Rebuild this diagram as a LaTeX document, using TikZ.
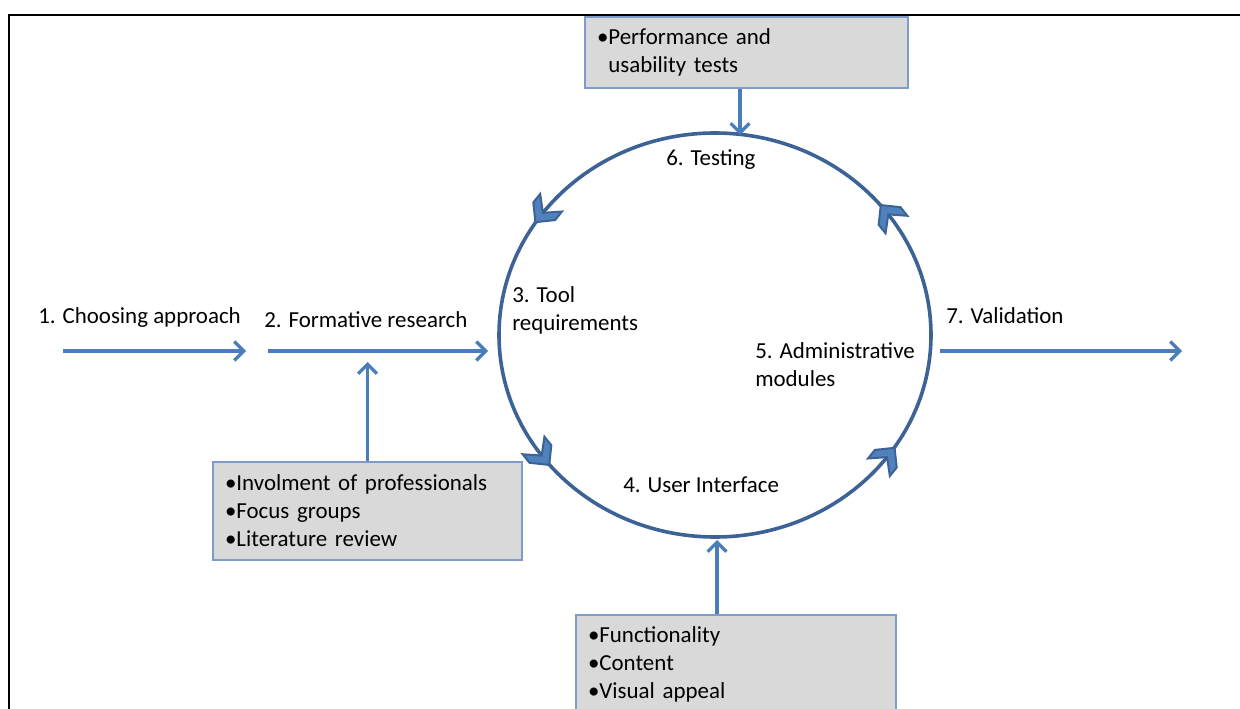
\documentclass[tikz,border=0pt]{standalone}
\usepackage{fontspec}
\setmainfont{Carlito}
\usetikzlibrary{arrows.meta,decorations.markings}
\definecolor{arrowblue}{HTML}{4A7EBB}
\definecolor{ringblue}{HTML}{3C6296}
\definecolor{chevfill}{HTML}{4F81BD}
\definecolor{boxfill}{HTML}{D9D9D9}
\definecolor{boxline}{HTML}{7F9CC8}
\newcommand\mychevron{\filldraw[fill=chevfill,draw=ringblue,line width=1.5pt,line join=miter] (11,0) -- (-3,14) -- (-14,14) -- (-1,0) -- (-14,-14) -- (-3,-14) -- cycle;}
\begin{document}
\begin{tikzpicture}[x=0.75pt,y=-0.75pt,
  font=\fontsize{17.2}{21}\selectfont,
  arr/.style={draw=arrowblue,line width=2.5pt,-{Straight Barb[length=7pt,width=14pt]}},
  ring/.style={draw=ringblue,line width=2.7pt},
  infobox/.style={draw=boxline,fill=boxfill,line width=0.8pt,inner xsep=9pt,inner ysep=0pt,align=left},
  lbl/.style={anchor=west,inner sep=0pt,align=left}]
\useasboundingbox (0,0) rectangle (1240,709);
\clip (0,0) rectangle (1240,709);
% frame
\draw[line width=2.2pt] (9,15) rectangle (1270,740);
% ring
\coordinate (ctr) at (715,335);
\draw[ring,postaction={decorate},decoration={markings,
   mark=at position 0.10 with {\mychevron},
   mark=at position 0.40 with {\mychevron},
   mark=at position 0.60 with {\mychevron},
   mark=at position 0.90 with {\mychevron}}]
  (931,335) arc[start angle=0,end angle=-360,x radius=216,y radius=202];
\coordinate (ringtop) at (740,135);
\coordinate (ringbot) at (717,540);
% boxes
\node[infobox,minimum width=242.25pt,minimum height=53.25pt,text width=224.25pt] (perf) at (746.5,52.5)
  {•Performance and\\\phantom{•}usability tests};
\node[infobox,minimum width=231.75pt,minimum height=73.5pt,text width=213.75pt] (lit) at (367.5,511)
  {•Involment of professionals\\•Focus groups\\•Literature review};
\node[infobox,minimum width=240pt,minimum height=73.5pt,text width=222pt] (func) at (736,664)
  {•Functionality\\•Content\\•Visual appeal};
% labels
\node[lbl] (l1) at (38,318) {1. Choosing approach};
\node[lbl] (l2) at (264,320) {2. Formative research};
\node[lbl] (l3) at (512,310) {3. Tool\\requirements};
\node[lbl] (l4) at (623,485) {4. User Interface};
\node[lbl] (l5) at (755,365) {5. Administrative\\modules};
\node[lbl] (l6) at (666,160) {6. Testing};
\node[lbl] (l7) at (946,316) {7. Validation};
% arrows
\coordinate (a1s) at (63,351);
\coordinate (a1e) at (246,351);
\coordinate (a2s) at (268,351);
\coordinate (a2e) at (488,351);
\coordinate (a2j) at (367.5,362);
\coordinate (a7s) at (940,351);
\coordinate (a7e) at (1182,351);
\draw[arr] (a1s) -- (a1e);
\draw[arr] (a2s) -- (a2e);
\draw[arr] (lit.north) -- (a2j);
\draw[arr] (a7s) -- (a7e);
\draw[arr] (perf.south -| ringtop) -- (ringtop);
\draw[arr] (func.north -| ringbot) -- (ringbot);
\end{tikzpicture}
\end{document}
